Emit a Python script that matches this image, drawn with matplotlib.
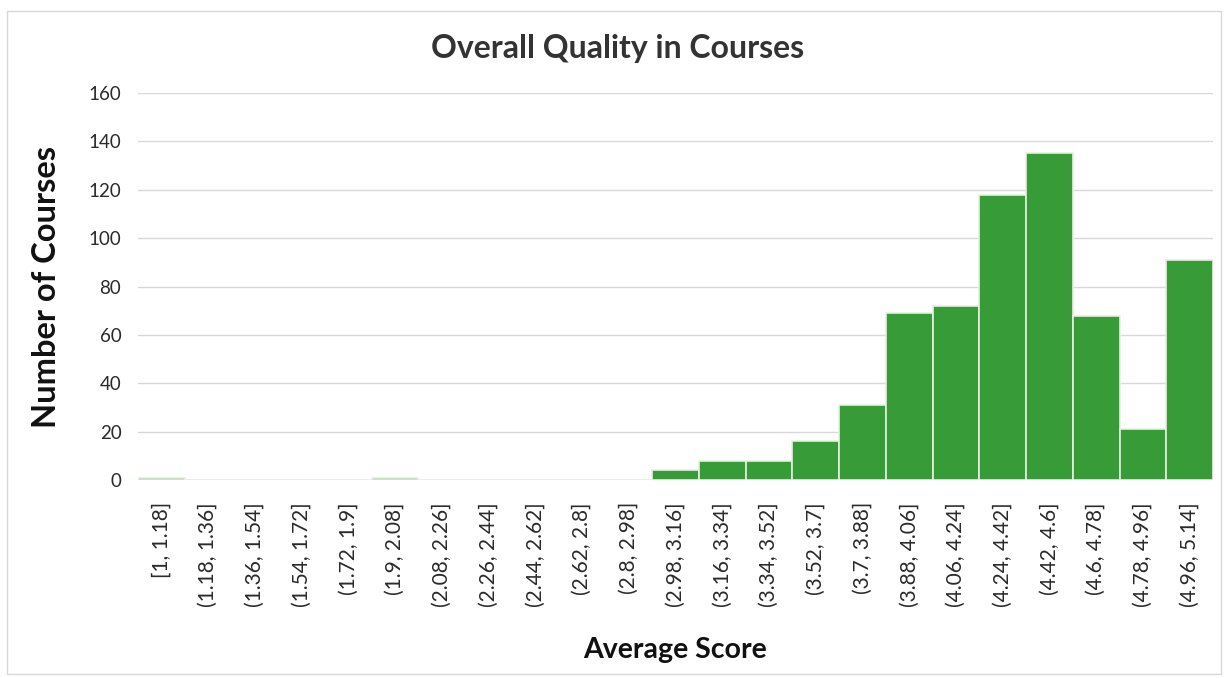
import matplotlib
matplotlib.use("Agg")
import matplotlib.pyplot as plt
import numpy as np

bins = ["[1, 1.18]", "(1.18, 1.36]", "(1.36, 1.54]", "(1.54, 1.72]", "(1.72, 1.9]",
        "(1.9, 2.08]", "(2.08, 2.26]", "(2.26, 2.44]", "(2.44, 2.62]", "(2.62, 2.8]",
        "(2.8, 2.98]", "(2.98, 3.16]", "(3.16, 3.34]", "(3.34, 3.52]", "(3.52, 3.7]",
        "(3.7, 3.88]", "(3.88, 4.06]", "(4.06, 4.24]", "(4.24, 4.42]", "(4.42, 4.6]",
        "(4.6, 4.78]", "(4.78, 4.96]", "(4.96, 5.14]"]
counts = [1, 0, 0, 0, 0, 1, 0, 0, 0, 0, 0, 4, 8, 8, 16, 31, 69, 72, 118, 135, 68, 21, 91]
yticks = [0, 20, 40, 60, 80, 100, 120, 140, 160]

plt.rcParams['font.family'] = ['Lato', 'DejaVu Sans']

fig = plt.figure(figsize=(12.28, 6.78), dpi=100)
ax = fig.add_axes([0.1124, 0.292, 0.8754, 0.5708])

x = np.arange(len(bins))
ax.bar(x, counts, width=1.0, color='#379b37', edgecolor='#e8f0e0', linewidth=1.2, zorder=3)
ax.set_xlim(-0.5, len(bins) - 0.5)
ax.set_ylim(0, 160)
ax.set_yticks(yticks)
ax.set_yticklabels([str(v) for v in yticks], fontsize=13.5, color='#2a2a2a')
ax.set_xticks(x)
ax.set_xticklabels(bins, rotation=90, fontsize=15, color='#2a2a2a')
ax.tick_params(axis='y', length=0, pad=12)
ax.tick_params(axis='x', length=0, pad=16)
ax.grid(axis='y', color='#d9d9d9', linewidth=1, zorder=0)
for s in ax.spines.values():
    s.set_visible(False)
ax.axhline(0, color='#d0d0d0', linewidth=1, zorder=2)

fig.text(0.503, 0.928, "Overall Quality in Courses", fontsize=23, fontweight='bold',
         color='#333333', ha='center', va='center')
ax.set_ylabel("Number of Courses", fontsize=23.5, fontweight='bold', color='#111111', labelpad=20)
ax.set_xlabel("Average Score", fontsize=20.5, fontweight='bold', color='#111111', labelpad=22)

# outer chart border
fig.patches.append(plt.Rectangle((0.006, 0.006), 0.988, 0.978, transform=fig.transFigure,
                                 fill=False, edgecolor='#d8d8d8', linewidth=1))

fig.savefig("out.png", dpi=100)
